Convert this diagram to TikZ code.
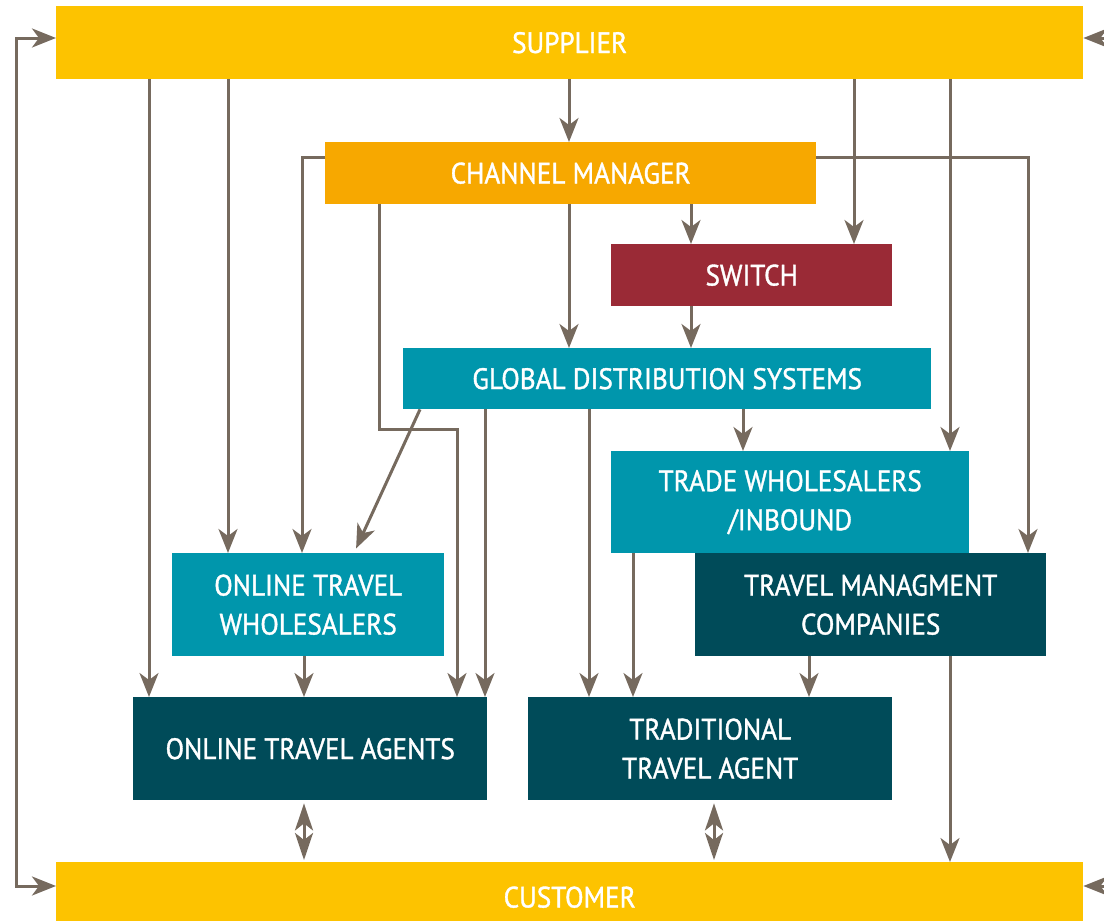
\documentclass[tikz,border=0pt]{standalone}
\usepackage{fontspec}
\setmainfont{PT Sans}[FakeStretch=0.92,FakeBold=1.2]
\usetikzlibrary{arrows.meta}
\definecolor{cSup}{RGB}{253,195,0}
\definecolor{cCM}{RGB}{247,168,0}
\definecolor{cSw}{RGB}{154,42,54}
\definecolor{cTeal}{RGB}{0,150,172}
\definecolor{cDark}{RGB}{0,75,89}
\definecolor{cLine}{RGB}{118,106,94}
\tikzset{
  box/.style={rectangle, anchor=north west, inner sep=0pt, text=white, align=center,
    font=\fontsize{29.5}{39}\selectfont},
  tipA/.tip={Stealth[length=24pt,width=19pt,inset=7pt]},
  arr/.style={draw=cLine, line width=3pt, -tipA},
  arrs/.style={draw=cLine, line width=3pt, tipA-tipA},
  dbl/.style={draw=cLine, line width=3pt, {Stealth[length=27pt,width=18pt,inset=7pt]}-{Stealth[length=27pt,width=18pt,inset=7pt]}},
}
\begin{document}
\begin{tikzpicture}[x=1pt,y=-1pt]
\useasboundingbox (0,0) rectangle (1104,921);
\fill[white] (0,0) rectangle (1104,921);
% boxes
\node[box, fill=cSup, minimum width=1027pt, minimum height=73pt] (sup) at (56,6) {SUPPLIER};
\node[box, fill=cCM, minimum width=491pt, minimum height=62pt] (cm) at (325,142) {CHANNEL MANAGER};
\node[box, fill=cSw, minimum width=281pt, minimum height=62pt] (sw) at (611,244) {SWITCH};
\node[box, fill=cTeal, minimum width=528pt, minimum height=61pt] (gds) at (403,348) {GLOBAL DISTRIBUTION SYSTEMS};
\node[box, fill=cTeal, minimum width=358pt, minimum height=102pt] (tws) at (611,451) {TRADE WHOLESALERS\\/INBOUND};
\node[box, fill=cDark, minimum width=351pt, minimum height=103pt] (tmc) at (695,553) {TRAVEL MANAGMENT\\COMPANIES};
\node[box, fill=cTeal, minimum width=272pt, minimum height=103pt] (otw) at (172,553) {ONLINE TRAVEL\\WHOLESALERS};
\node[box, fill=cDark, minimum width=354pt, minimum height=103pt] (ota) at (133,697) {ONLINE TRAVEL AGENTS};
\node[box, fill=cDark, minimum width=364pt, minimum height=103pt] (tta) at (528,697) {TRADITIONAL\\TRAVEL AGENT};
\node[box, fill=cSup, minimum width=1027pt, minimum height=70pt] (cus) at (56,862) {CUSTOMER};
% column / row helper coordinates
\foreach \x in {16,149,228,302,304,354,379,420,457,485,569,589,633,691,714,743,809,854,950,1028,1110}
  \coordinate (c\x) at (\x,0);
\foreach \y in {38,157,429,886}
  \coordinate (r\y) at (0,\y);
\coordinate (bend) at (457,429);
% from supplier
\draw[arr] (sup.south -| c149) -- (ota.north -| c149);
\draw[arr] (sup.south -| c228) -- (otw.north -| c228);
\draw[arr] (sup.south -| c569) -- (cm.north -| c569);
\draw[arr] (sup.south -| c854) -- (sw.north -| c854);
\draw[arr] (sup.south -| c950) -- (tws.north -| c950);
% from channel manager
\draw[arr] (cm.west |- r157) -| (otw.north -| c302);
\draw[arr] (cm.east |- r157) -| (tmc.north -| c1028);
\draw[arr] (cm.south -| c379) |- (bend) -- (ota.north -| c457);
\draw[arr] (cm.south -| c569) -- (gds.north -| c569);
\draw[arr] (cm.south -| c691) -- (sw.north -| c691);
% switch
\draw[arr] (sw.south -| c691) -- (gds.north -| c691);
% from GDS
\draw[arr, shorten >=5pt] (gds.south -| c420) -- (otw.north -| c354);
\draw[arr] (gds.south -| c485) -- (ota.north -| c485);
\draw[arr] (gds.south -| c589) -- (tta.north -| c589);
\draw[arr] (gds.south -| c743) -- (tws.north -| c743);
% lower level
\draw[arr] (tws.south -| c633) -- (tta.north -| c633);
\draw[arr] (tmc.south -| c809) -- (tta.north -| c809);
\draw[arr] (tmc.south -| c950) -- (cus.north -| c950);
\draw[arr] (otw.south -| c304) -- (ota.north -| c304);
% customer links
\draw[dbl, shorten <=3pt, shorten >=2pt] (ota.south -| c304) -- (cus.north -| c304);
\draw[dbl, shorten <=3pt, shorten >=2pt] (tta.south -| c714) -- (cus.north -| c714);
% outer loops
\draw[arrs] (sup.west |- r38) -| (c16 |- r886) -- (cus.west |- r886);
\draw[arr] (c1110 |- r38) -- (sup.east |- r38);
\draw[arr] (c1110 |- r886) -- (cus.east |- r886);
\end{tikzpicture}
\end{document}
